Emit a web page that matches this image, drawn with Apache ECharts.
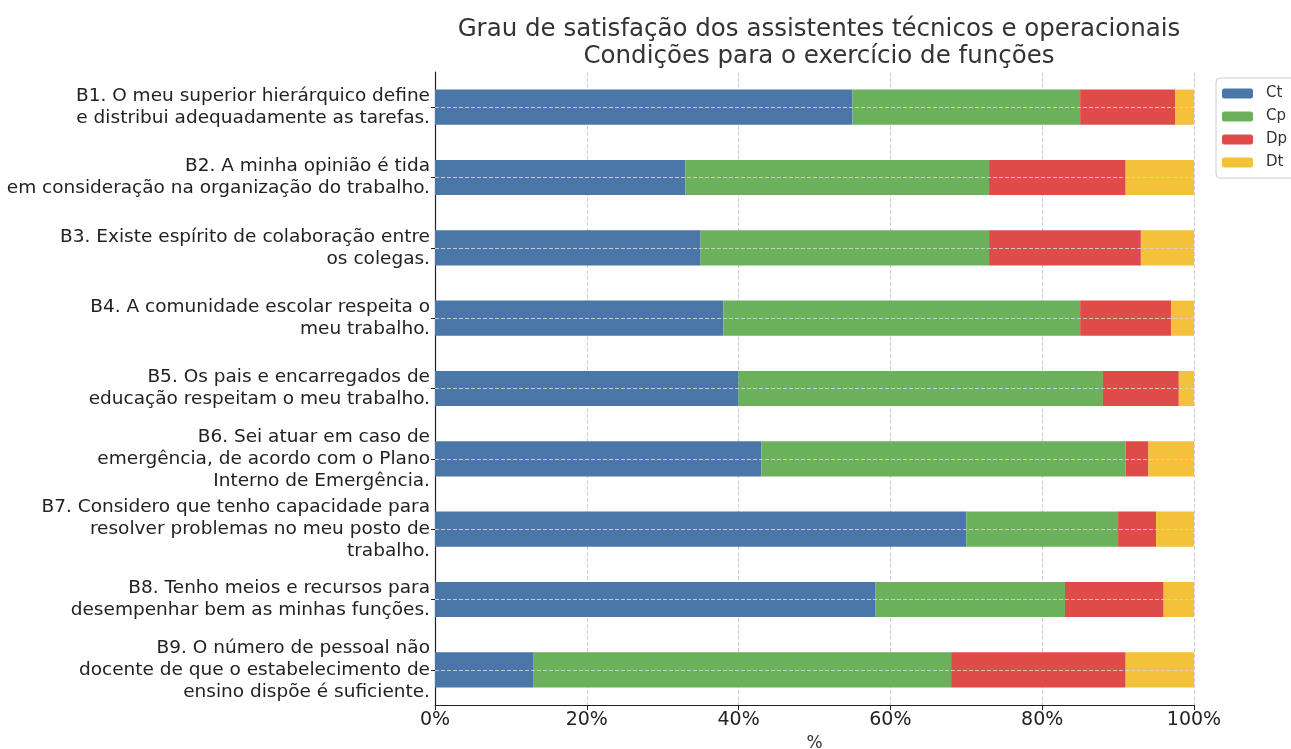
<!DOCTYPE html>
<html>
<head>
<meta charset="utf-8">
<script src="https://cdn.jsdelivr.net/npm/echarts@6/dist/echarts.min.js"></script>
<style>
  html, body { margin: 0; padding: 0; background: #fff; }
  #chart { width: 1291px; height: 749px; }
</style>
</head>
<body>
<div id="chart"></div>
<script>
// categorias (perguntas)
var categories = [
  'B1. O meu superior hierárquico define\ne distribui adequadamente as tarefas.',
  'B2. A minha opinião é tida\nem consideração na organização do trabalho.',
  'B3. Existe espírito de colaboração entre\nos colegas.',
  'B4. A comunidade escolar respeita o\nmeu trabalho.',
  'B5. Os pais e encarregados de\neducação respeitam o meu trabalho.',
  'B6. Sei atuar em caso de\nemergência, de acordo com o Plano\nInterno de Emergência.',
  'B7. Considero que tenho capacidade para\nresolver problemas no meu posto de\ntrabalho.',
  'B8. Tenho meios e recursos para\ndesempenhar bem as minhas funções.',
  'B9. O número de pessoal não\ndocente de que o estabelecimento de\nensino dispõe é suficiente.'
];
var ct = [55, 33, 35, 38, 40, 43, 70, 58, 13];
var cp = [30, 40, 38, 47, 48, 48, 20, 25, 55];
var dp = [12.5, 18, 20, 12, 10, 3, 5, 13, 23];
var dt = [2.5, 9, 7, 3, 2, 6, 5, 4, 9];

var font = 'DejaVu Sans';
var colors = ['#4a76a8', '#6bb05a', '#df4b48', '#f4c13b'];

function bar(name, data) {
  return {
    name: name,
    type: 'bar',
    stack: 'total',
    barWidth: '50%',
    data: data
  };
}

var series = [bar('Ct', ct), bar('Cp', cp), bar('Dp', dp), bar('Dt', dt)];
// linhas tracejadas horizontais no centro de cada barra
series[3].markLine = {
  silent: true,
  symbol: 'none',
  label: { show: false },
  lineStyle: { type: 'dashed', color: 'rgba(210,210,210,0.9)', width: 1 },
  data: categories.map(function (c) { return { yAxis: c }; })
};

var chart = echarts.init(document.getElementById('chart'));
chart.setOption({
  animation: false,
  color: colors,
  textStyle: { fontFamily: font },
  title: {
    text: 'Grau de satisfação dos assistentes técnicos e operacionais\nCondições para o exercício de funções',
    left: 814,
    top: 11,
    textAlign: 'center',
    textStyle: { fontFamily: font, fontSize: 24.5, fontWeight: 'normal', color: '#333', lineHeight: 27 }
  },
  legend: {
    orient: 'vertical',
    left: 1216,
    top: 78,
    itemWidth: 31,
    itemHeight: 10,
    itemGap: 8,
    padding: [8, 20, 8, 6],
    borderColor: '#ccc',
    borderWidth: 1,
    borderRadius: 4,
    textStyle: { fontFamily: font, fontSize: 15, color: '#333', padding: [0, 0, 0, 8] },
    data: ['Ct', 'Cp', 'Dp', 'Dt']
  },
  grid: { left: 435, right: 97, top: 72, bottom: 44, outerBoundsMode: 'none' },
  xAxis: {
    type: 'value',
    min: 0,
    max: 100,
    interval: 20,
    name: '%',
    nameLocation: 'middle',
    nameGap: 29,
    nameTextStyle: { fontFamily: font, fontSize: 17, color: '#333' },
    axisLine: { show: true, lineStyle: { color: '#222', width: 1.2 } },
    axisTick: { show: true, length: 5, lineStyle: { color: '#222' } },
    axisLabel: { fontFamily: font, fontSize: 19, color: '#222', margin: 6, formatter: '{value}%' },
    splitLine: { show: true, lineStyle: { type: 'dashed', color: '#d0d0d0' } }
  },
  yAxis: {
    type: 'category',
    inverse: true,
    data: categories,
    axisLine: { show: true, lineStyle: { color: '#222', width: 1.2 } },
    axisTick: { show: true, alignWithLabel: true, length: 4, lineStyle: { color: '#222' } },
    axisLabel: { fontFamily: font, fontSize: 18.5, lineHeight: 22, color: '#222', margin: 5, align: 'right' },
    splitLine: { show: false }
  },
  series: series
});
</script>
</body>
</html>
